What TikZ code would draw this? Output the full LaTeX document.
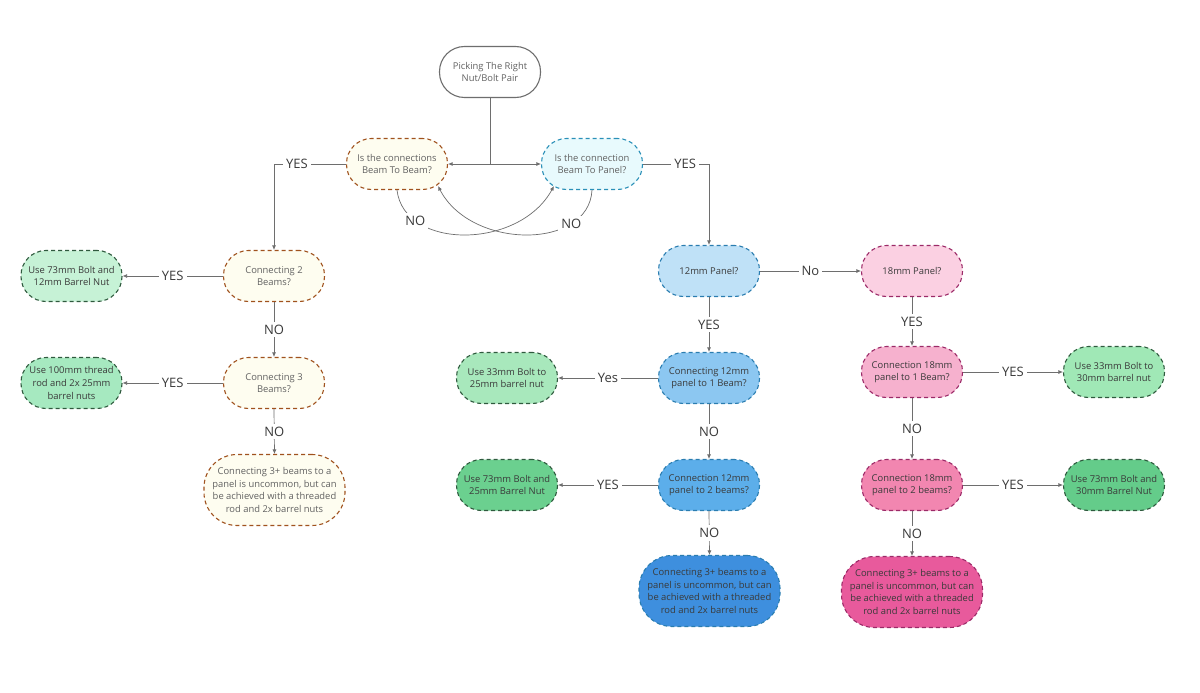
\documentclass[tikz,border=0pt]{standalone}
\usepackage{fontspec}
\setmainfont{Open Sans}
\usetikzlibrary{arrows.meta}

\definecolor{linegray}{HTML}{6E6E6E}
\definecolor{labelgray}{HTML}{3A3A3A}
\definecolor{softtext}{HTML}{626262}
\definecolor{beamfill}{HTML}{FEFDF0}
\definecolor{beamline}{HTML}{A0521E}
\definecolor{panelfill}{HTML}{E8FAFD}
\definecolor{panelline}{HTML}{2A90B8}
\definecolor{greenline}{HTML}{2F5A3E}
\definecolor{blueline}{HTML}{2A7DB0}
\definecolor{pinkline}{HTML}{9C2A68}

\begin{document}
\begin{tikzpicture}[x=1pt, y=-1pt,
  box/.style={rectangle, rounded corners=25pt, minimum width=101pt, minimum height=51pt, align=center,
    font=\fontsize{9.4}{12.6}\selectfont, line width=1.1pt, dash pattern=on 4pt off 3pt, text=labelgray},
  bigbox/.style={box, minimum width=141pt, minimum height=71pt, rounded corners=33pt},
  beambox/.style={fill=beamfill, draw=beamline, text=softtext},
  greenbox/.style={draw=greenline},
  bluebox/.style={draw=blueline},
  pinkbox/.style={draw=pinkline},
  arr/.style={draw=linegray, line width=0.7pt, -{Latex[length=4.5pt,width=4pt]}},
  lbl/.style={fill=white, inner sep=3pt, font=\fontsize{13}{13}\selectfont, text=labelgray}]

\fill[white] (0,0) rectangle (1200,693);
\useasboundingbox (0,0) rectangle (1200,693);

% TOP
\node [box, solid, draw=linegray, fill=white, text=softtext] (start) at (490, 72) {Picking The Right\\Nut/Bolt Pair};
\node [box, beambox] (btb) at (397, 164) {Is the connections\\Beam To Beam?};
\node [box, fill=panelfill, draw=panelline, text=softtext] (btp) at (592, 164) {Is the connection\\Beam To Panel?};
\coordinate (split) at (490, 164);

\draw [draw=linegray, line width=0.7pt] (start.south) -- (split);
\draw [arr] (split) -- (btb.east);
\draw [arr] (split) -- (btp.west);
\draw [arr] (btb.south) .. controls +(7,60) and +(-35,64) .. node [lbl, pos=0.22] {NO} ([xshift=13pt,yshift=4pt]btp.south west);
\draw [arr] (btp.south) .. controls +(-3,60) and +(33,64) .. node [lbl, pos=0.25] {NO} ([xshift=-10pt,yshift=4pt]btb.south east);

% LEFT COLUMN (beam to beam)
\begin{scope}
\node [box, beambox] (c2) at (274, 276) {Connecting 2\\Beams?};
\node [box, beambox] (c3) at (274, 383) {Connecting 3\\Beams?};
\node [bigbox, beambox] (c3p) at (274.5, 490) {Connecting 3+ beams to a\\panel is uncommon, but can\\be achieved with a threaded\\rod and 2x barrel nuts};
\node [box, greenbox, fill={rgb,255:red,198;green,242;blue,214}] (u1) at (71.5, 276) {Use 73mm Bolt and\\12mm Barrel Nut};
\node [box, greenbox, fill={rgb,255:red,166;green,233;blue,192}] (u2) at (71.5, 383) {Use 100mm thread\\rod and 2x 25mm\\barrel nuts};

\draw [arr] (btb.west) -- node [lbl, pos=0.68] {YES} (c2.north |- btb.west) -- (c2.north);
\draw [arr] (c2.west) -- node [lbl] {YES} (u1.east);
\draw [arr] (c2.south) -- node [lbl] {NO} (c3.north);
\draw [arr] (c3.west) -- node [lbl] {YES} (u2.east);
\draw [arr] (c3.south) -- node [lbl] {NO} (c3p.north);
\end{scope}

% MIDDLE COLUMN (12mm panel)
\begin{scope}
\node [box, bluebox, fill={rgb,255:red,191;green,225;blue,247}] (p12) at (709, 271) {12mm Panel?};
\node [box, bluebox, fill={rgb,255:red,140;green,199;blue,241}] (b1) at (709, 378) {Connecting 12mm\\panel to 1 Beam?};
\node [box, bluebox, fill={rgb,255:red,92;green,174;blue,234}] (b2) at (709, 485) {Connection 12mm\\panel to 2 beams?};
\node [bigbox, bluebox, fill={rgb,255:red,62;green,143;blue,222}] (b3p) at (709.5, 591) {Connecting 3+ beams to a\\panel is uncommon, but can\\be achieved with a threaded\\rod and 2x barrel nuts};
\node [box, greenbox, fill={rgb,255:red,168;green,232;blue,188}] (u3) at (507, 378) {Use 33mm Bolt to\\25mm barrel nut};
\node [box, greenbox, fill={rgb,255:red,107;green,208;blue,143}] (u4) at (507, 485) {Use 73mm Bolt and\\25mm Barrel Nut};

\draw [arr] (btp.east) -- node [lbl, pos=0.64] {YES} (p12.north |- btp.east) -- (p12.north);
\draw [arr] (p12.south) -- node [lbl] {YES} (b1.north);
\draw [arr] (b1.west) -- node [lbl] {Yes} (u3.east);
\draw [arr] (b1.south) -- node [lbl] {NO} (b2.north);
\draw [arr] (b2.west) -- node [lbl] {YES} (u4.east);
\draw [arr] (b2.south) -- node [lbl] {NO} (b3p.north);
\end{scope}

% RIGHT COLUMN (18mm panel)
\begin{scope}
\node [box, pinkbox, fill={rgb,255:red,251;green,208;blue,226}] (p18) at (912, 271) {18mm Panel?};
\node [box, pinkbox, fill={rgb,255:red,246;green,177;blue,206}] (r1) at (912, 372) {Connection 18mm\\panel to 1 Beam?};
\node [box, pinkbox, fill={rgb,255:red,242;green,134;blue,176}] (r2) at (912, 485) {Connection 18mm\\panel to 2 beams?};
\node [bigbox, pinkbox, fill={rgb,255:red,232;green,90;blue,156}] (r3p) at (912, 592) {Connecting 3+ beams to a\\panel is uncommon, but can\\be achieved with a threaded\\rod and 2x barrel nuts};
\node [box, greenbox, fill={rgb,255:red,160;green,232;blue,182}] (u5) at (1114, 372) {Use 33mm Bolt to\\30mm barrel nut};
\node [box, greenbox, fill={rgb,255:red,100;green,204;blue,138}] (u6) at (1114, 485) {Use 73mm Bolt and\\30mm Barrel Nut};

\draw [arr] (p12.east) -- node [lbl] {No} (p18.west);
\draw [arr] (p18.south) -- node [lbl] {YES} (r1.north);
\draw [arr] (r1.east) -- node [lbl] {YES} (u5.west);
\draw [arr] (r1.south) -- node [lbl] {NO} (r2.north);
\draw [arr] (r2.east) -- node [lbl] {YES} (u6.west);
\draw [arr] (r2.south) -- node [lbl] {NO} (r3p.north);
\end{scope}

\end{tikzpicture}
\end{document}
